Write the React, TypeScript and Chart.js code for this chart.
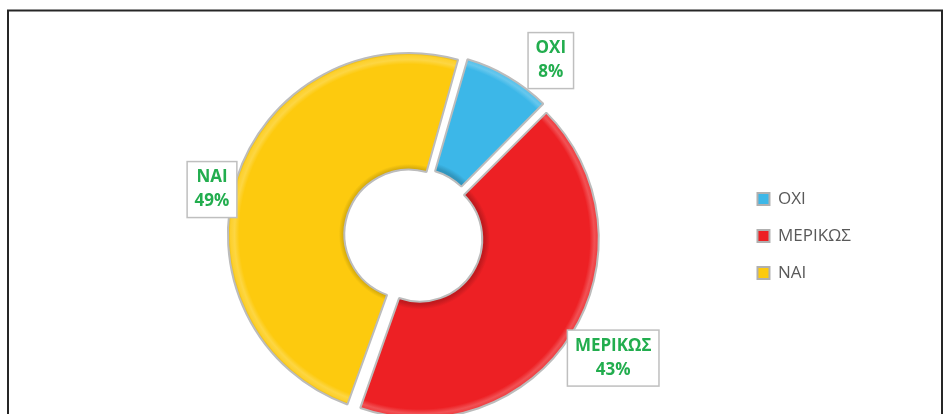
import React, { useEffect, useRef } from "react";
import { Chart, registerables } from "chart.js";

Chart.register(...registerables);

// ---- data ----
const categories = ["ΟΧΙ", "ΜΕΡΙΚΩΣ", "ΝΑΙ"];
const percentages = [8, 43, 49];
const sliceColors = ["#3cb7e8", "#ed2024", "#fdca0e"];

// ---- label placement (degrees shift from slice middle, distance from centre) ----
const labelAngleShift = [7.4, -0.6, -4.9];
const labelDistance = [222, 233, 208];

const LABEL_GREEN = "#22ad4e";
const FONT = '"Open Sans", "Noto Sans", sans-serif';
const SLICE_OFFSET = 24;

function mix(hex: string, target: number, amt: number) {
  const n = parseInt(hex.slice(1), 16);
  const r = (n >> 16) & 255, g = (n >> 8) & 255, b = n & 255;
  const f = (c: number) => Math.round(c + (target - c) * amt);
  return `rgb(${f(r)},${f(g)},${f(b)})`;
}

function sliceFill(ctx: any) {
  const base = sliceColors[ctx.dataIndex % sliceColors.length];
  const chart = ctx.chart;
  const area = chart.chartArea;
  const meta = chart.getDatasetMeta(0);
  const ctrl: any = meta && meta.controller;
  if (!area || !ctrl || !ctrl.outerRadius) return base;
  const o = SLICE_OFFSET / 4;
  const cx = (area.left + area.right) / 2;
  const cy = (area.top + area.bottom) / 2;
  const ri = ctrl.innerRadius + o;
  const ro = ctrl.outerRadius + o;
  const g = chart.ctx.createRadialGradient(cx, cy, ri, cx, cy, ro);
  g.addColorStop(0, mix(base, 0, 0.18));
  g.addColorStop(0.045, base);
  g.addColorStop(0.9, base);
  g.addColorStop(0.94, mix(base, 255, 0.22));
  g.addColorStop(0.975, mix(base, 255, 0.12));
  g.addColorStop(1, mix(base, 0, 0.12));
  return g;
}

const framePlugin = {
  id: "frame",
  beforeDraw(chart: any) {
    const ctx = chart.ctx;
    ctx.save();
    ctx.fillStyle = "#ffffff";
    ctx.fillRect(0, 0, chart.width, chart.height);
    ctx.strokeStyle = "#262626";
    ctx.lineWidth = 2;
    ctx.strokeRect(8, 10.5, 934, 1000);
    ctx.restore();
  },
};

const dataLabelPlugin = {
  id: "boxLabels",
  afterDatasetsDraw(chart: any) {
    const ctx = chart.ctx;
    const meta = chart.getDatasetMeta(0);
    const ds = chart.data.datasets[0];
    ctx.save();
    meta.data.forEach((arc: any, i: number) => {
      const { x, y, startAngle, endAngle } = arc.getProps(
        ["x", "y", "startAngle", "endAngle"],
        true
      );
      const mid = (startAngle + endAngle) / 2 + (labelAngleShift[i] * Math.PI) / 180;
      const cx = x + Math.cos(mid) * labelDistance[i];
      const cy = y + Math.sin(mid) * labelDistance[i];
      const l1 = String(chart.data.labels[i]);
      const l2 = ds.data[i] + "%";
      ctx.font = `bold 17px ${FONT}`;
      const w = Math.max(ctx.measureText(l1).width, ctx.measureText(l2).width) + 15;
      const h = 56;
      ctx.fillStyle = "#ffffff";
      ctx.fillRect(cx - w / 2, cy - h / 2, w, h);
      ctx.strokeStyle = "#bfbfbf";
      ctx.lineWidth = 1.5;
      ctx.strokeRect(cx - w / 2, cy - h / 2, w, h);
      ctx.fillStyle = LABEL_GREEN;
      ctx.textAlign = "center";
      ctx.textBaseline = "middle";
      ctx.fillText(l1, cx, cy - 12);
      ctx.fillText(l2, cx, cy + 12);
    });
    ctx.restore();
  },
};

export default function App() {
  const ref = useRef<HTMLCanvasElement>(null);

  useEffect(() => {
    if (!ref.current) return;
    const chart = new Chart(ref.current, {
      type: "doughnut",
      data: {
        labels: categories,
        datasets: [
          {
            data: percentages,
            backgroundColor: sliceFill,
            borderColor: "#bcbcbc",
            borderWidth: 2,
            offset: SLICE_OFFSET,
            hoverOffset: SLICE_OFFSET,
          },
        ],
      },
      options: {
        responsive: false,
        animation: false,
        rotation: 16,
        radius: 175.5,
        cutout: "33.6%",
        layout: { padding: { left: 92, right: 82, top: 0, bottom: 0 } },
        plugins: {
          legend: {
            position: "right",
            labels: {
              color: "#595959",
              font: { family: FONT, size: 17 },
              boxWidth: 12,
              boxHeight: 12,
              padding: 20,
              generateLabels: (chart: any) =>
                chart.data.labels.map((t: string, i: number) => ({
                  text: t,
                  fillStyle: sliceColors[i],
                  strokeStyle: "#b0b0b0",
                  lineWidth: 2,
                  fontColor: "#595959",
                  hidden: false,
                  index: i,
                })),
            },
          },
          tooltip: { enabled: false },
        },
      },
      plugins: [framePlugin, dataLabelPlugin],
    });
    return () => chart.destroy();
  }, []);

  return (
    <div
      style={{
        position: "fixed",
        left: 0,
        top: 0,
        width: 943,
        height: 414,
        overflow: "hidden",
        background: "#fff",
      }}
    >
      <canvas ref={ref} width={943} height={472} style={{ display: "block" }} />
    </div>
  );
}
